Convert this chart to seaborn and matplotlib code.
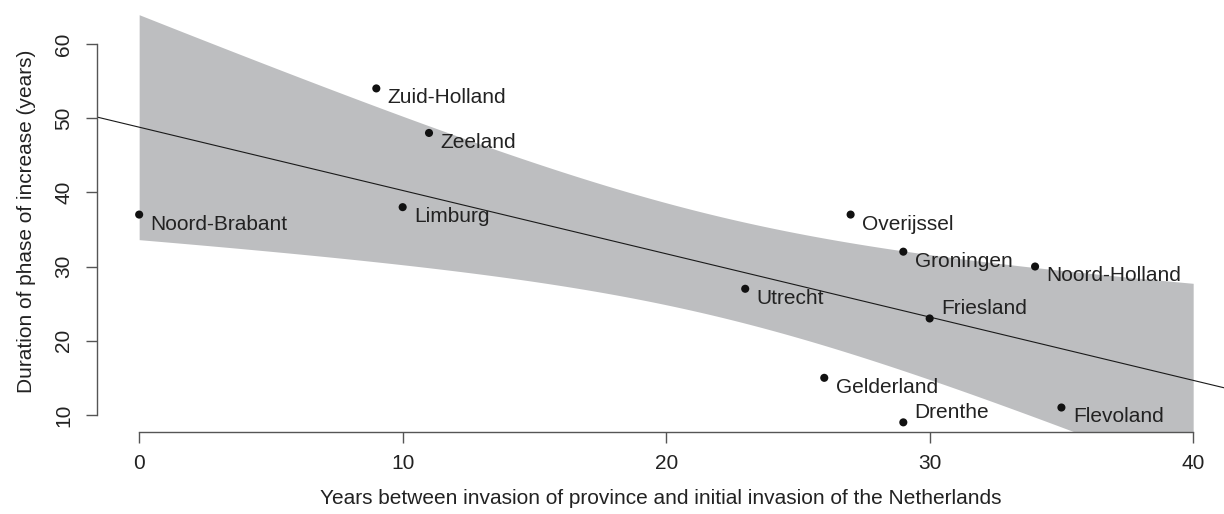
import numpy as np
import pandas as pd
import matplotlib
matplotlib.use("Agg")
import matplotlib.pyplot as plt
import seaborn as sns

# values
provinces = ["Noord-Brabant", "Zuid-Holland", "Zeeland", "Limburg", "Overijssel",
             "Groningen", "Noord-Holland", "Utrecht", "Friesland", "Gelderland",
             "Drenthe", "Flevoland"]
years_since = [0, 9, 11, 10, 27, 29, 34, 23, 30, 26, 29, 35]
duration = [37, 54, 48, 38, 37, 32, 30, 27, 23, 15, 9, 11]
# labels drawn above-right of the point (others go below-right)
label_above = ["Friesland", "Drenthe"]

x_ticks = [0, 10, 20, 30, 40]
y_ticks = [10, 20, 30, 40, 50, 60]

df = pd.DataFrame({"province": provinces, "x": years_since, "y": duration})

sns.set_style("ticks")
plt.rcParams["font.family"] = ["Liberation Sans", "DejaVu Sans"]
FS = 15

fig = plt.figure(figsize=(12.24, 5.14), dpi=100)
ax = fig.add_axes([97 / 1224, 82 / 514, 1 - 97 / 1224, 421.5 / 514])

# linear fit with 95% confidence band for the mean
x = df["x"].to_numpy(float)
y = df["y"].to_numpy(float)
n = len(x)
slope, intercept = np.polyfit(x, y, 1)
resid = y - (intercept + slope * x)
s = np.sqrt(np.sum(resid ** 2) / (n - 2))
sxx = np.sum((x - x.mean()) ** 2)
t_crit = 2.228  # t(0.975, df=10)
xg = np.linspace(x_ticks[0], x_ticks[-1], 200)
fit = intercept + slope * xg
hw = t_crit * s * np.sqrt(1 / n + (xg - x.mean()) ** 2 / sxx)

ax.fill_between(xg, fit - hw, fit + hw, color="#bdbec0", lw=0, zorder=1)
ax.axline((0, intercept), slope=slope, color="#1a1a1a", lw=0.8, zorder=2)

sns.scatterplot(data=df, x="x", y="y", color="#111111", s=34, edgecolor="none",
                ax=ax, zorder=3)

for _, r in df.iterrows():
    dy = 7 if r["province"] in label_above else -6.8
    ax.annotate(r["province"], (r["x"], r["y"]), xytext=(8.2, dy),
                textcoords="offset points", ha="left", va="center",
                fontsize=FS, color="#222222")

ax.set_xlim(-1.6, 41.17)
ax.set_ylim(7.7, 64.5)
ax.set_xticks(x_ticks)
ax.set_yticks(y_ticks)
ax.spines["left"].set_bounds(y_ticks[0], y_ticks[-1])
ax.spines["bottom"].set_bounds(x_ticks[0], x_ticks[-1])
sns.despine(ax=ax)
for sp in ["left", "bottom"]:
    ax.spines[sp].set_color("#555555")
    ax.spines[sp].set_linewidth(1.0)

ax.tick_params(axis="both", length=8, width=1.0, color="#555555",
               labelsize=FS, labelcolor="#222222")
ax.tick_params(axis="y", pad=9)
ax.tick_params(axis="x", pad=8)
for lab in ax.get_yticklabels():
    lab.set_rotation(90)
    lab.set_va("center")

ax.set_xlabel("Years between invasion of province and initial invasion of the Netherlands",
              fontsize=FS, color="#222222", labelpad=11)
ax.set_ylabel("Duration of phase of increase (years)", fontsize=FS,
              color="#222222", labelpad=13)

fig.savefig("out.png", dpi=100)
